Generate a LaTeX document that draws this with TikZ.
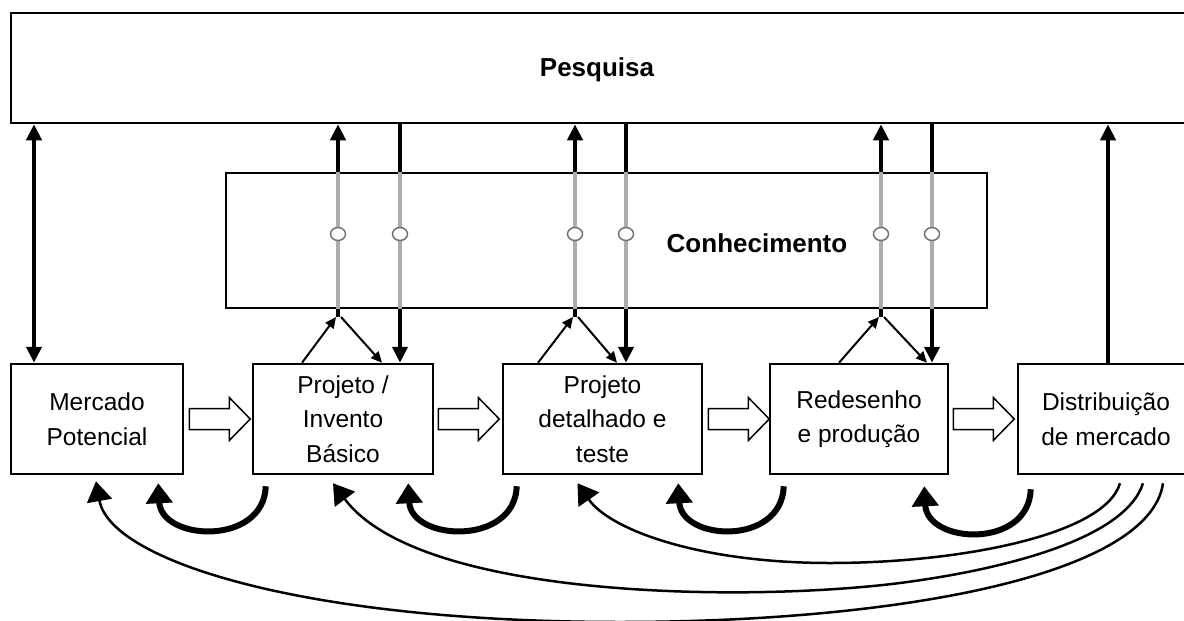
\documentclass[tikz,border=0pt]{standalone}
\usepackage{fontspec}
\setmainfont{Liberation Sans}
\usetikzlibrary{arrows.meta}
\begin{document}
\begin{tikzpicture}[x=1pt,y=-1pt,
  box/.style={draw, line width=2.5pt, minimum height=110pt, align=center,
    font=\fontsize{24.5}{34.5}\selectfont, inner sep=0pt},
  bigbox/.style={draw, line width=2.5pt, inner sep=0pt},
  title/.style={font=\fontsize{26}{30}\selectfont\bfseries, inner sep=0pt},
  blk/.style={line width=4pt},
  blkarrow/.style={line width=4pt, -{Triangle[length=16pt,width=15pt]}},
  dblarrow/.style={line width=4pt, {Triangle[length=16pt,width=15pt]}-{Triangle[length=16pt,width=15pt]}},
  gry/.style={line width=4pt, draw=black!32},
  ring/.style={draw=black!55, fill=white, line width=1.5pt},
  thinarrow/.style={line width=2pt, -{Triangle[length=11pt,width=10pt]}},
  hol/.style={draw, line width=1.5pt, fill=white},
  uarrow/.style={line width=6pt, -{Triangle[length=20pt,width=26pt]}},
  longarrow/.style={line width=2.5pt, -{Triangle[length=20pt,width=25pt]}},
]
\useasboundingbox (0,0) rectangle (1184,621);

% big boxes
\node[bigbox, minimum width=1195pt, minimum height=110pt] (pes) at (608.5,68) {};
\node[title] (pestxt) at (597,70) {Pesquisa};
\node[bigbox, line width=2pt, minimum width=761pt, minimum height=135pt] (con) at (606.5,240.5) {};
\node[title] (contxt) at (757,243) {Conhecimento};

% process boxes
\node[box, minimum width=172pt] (m) at (97,419) {Mercado\\Potencial};
\node[box, minimum width=180pt] (p) at (343,419) {Projeto /\\Invento\\Básico};
\node[box, minimum width=199pt] (t) at (602.5,419) {Projeto\\detalhado e\\teste};
\node[box, minimum width=178pt] (r) at (859,419) {Redesenho\\e produção};
\node[box, minimum width=176pt] (d) at (1106,419) {Distribuição\\de mercado};

% hollow arrows
\foreach \s/\sh in {m/5, p/4, t/5, r/4}{
  \draw[hol] ([xshift=\sh pt]\s.east) ++(0,-10.5) -- ++(40,0) -- ++(0,-11) -- ++(21,21.5)
     -- ++(-21,21.5) -- ++(0,-11) -- ++(-40,0) -- cycle;
}

% left double arrow and right up arrow
\draw[dblarrow] ([xshift=-63pt]m.north) -- ([xshift=-63pt]m.north |- pes.south);
\draw[blkarrow] ([xshift=2pt]d.north) -- ([xshift=2pt]d.north |- pes.south);

% junction coordinates
\coordinate (a1) at (338,317);
\coordinate (b1) at (400,317);
\coordinate (a2) at (575,317);
\coordinate (b2) at (626,317);
\coordinate (a3) at (881,317);
\coordinate (b3) at (932,317);

\foreach \a/\b/\n in {a1/b1/p, a2/b2/t, a3/b3/r}{
  % up line
  \draw[blk] (\a) -- (\a |- con.south);
  \draw[gry] (\a |- con.south) -- (\a |- con.north);
  \draw[blkarrow] (\a |- con.north) -- (\a |- pes.south);
  % down line
  \draw[blk] (\b |- pes.south) -- (\b |- con.north);
  \draw[gry] (\b |- con.north) -- (\b |- con.south);
  \draw[blkarrow] (\b |- con.south) -- (\b |- \n.north);
  % circles
  \draw[ring] (\a |- 0,234) ellipse [x radius=7.5pt, y radius=6.5pt];
  \draw[ring] (\b |- 0,234) ellipse [x radius=7.5pt, y radius=6.5pt];
}

% diagonal arrows
\draw[thinarrow] ([xshift=-41pt]p.north) -- ([xshift=-2pt]a1);
\draw[thinarrow] ([xshift=3pt]a1) -- ([xshift=39pt]p.north);
\draw[thinarrow] ([xshift=-64.5pt]t.north) -- ([xshift=-2pt]a2);
\draw[thinarrow] ([xshift=3pt]a2) -- ([xshift=14.5pt]t.north);
\draw[thinarrow] ([xshift=-20pt]r.north) -- ([xshift=-2pt]a3);
\draw[thinarrow] ([xshift=3pt]a3) -- ([xshift=68pt]r.north);

% U-turn arrows
\draw[uarrow] ([xshift=14pt,yshift=-11pt]p.south west) .. controls +(-2,60) and +(3,58) .. ([xshift=-26pt,yshift=-8pt]m.south east);
\draw[uarrow] ([xshift=15pt,yshift=-11pt]t.south west) .. controls +(-2,60) and +(3,58) .. ([xshift=-26pt,yshift=-8pt]p.south east);
\draw[uarrow] ([xshift=15pt,yshift=-11pt]r.south west) .. controls +(-2,60) and +(3,58) .. ([xshift=-25pt,yshift=-8pt]t.south east);
\draw[uarrow] ([xshift=14pt,yshift=-14pt]d.south west) .. controls +(-2,60) and +(3,58) .. ([xshift=-25pt,yshift=-11pt]r.south east);

% long feedback arrows
\coordinate (lowA) at (620,622);
\coordinate (lowB) at (900,583);
\coordinate (lowC) at (830,563);
\draw[longarrow] ([xshift=57pt,yshift=-8pt]d.south) .. controls (1150,575) and (900,622) .. (lowA)
   .. controls (300,622) and (110,560) .. ([xshift=-1pt,yshift=-6pt]m.south);
\draw[longarrow] ([xshift=37pt,yshift=-8pt]d.south) .. controls (1125,540) and (1000,570) .. (lowB)
   .. controls (750,602) and (420,600) .. ([xshift=-10pt,yshift=-8pt]p.south);
\draw[longarrow] ([xshift=14pt,yshift=-8pt]d.south) .. controls (1105,535) and (960,563) .. (lowC)
   .. controls (700,563) and (610,530) .. ([xshift=-25pt,yshift=-8pt]t.south);
\end{tikzpicture}
\end{document}
